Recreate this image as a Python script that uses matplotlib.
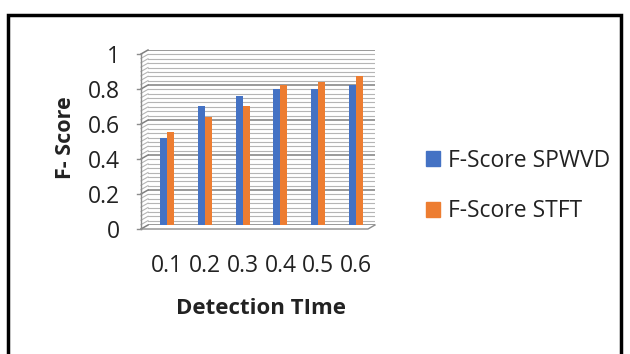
import matplotlib.pyplot as plt
import numpy as np
from matplotlib.lines import Line2D
from matplotlib.patches import Rectangle
import matplotlib.transforms as mtransforms

plt.rcParams['font.family'] = ['Open Sans', 'DejaVu Sans']

categories = ['0.1', '0.2', '0.3', '0.4', '0.5', '0.6']
spwvd = [0.50, 0.68, 0.74, 0.78, 0.78, 0.80]
stft = [0.53, 0.62, 0.68, 0.80, 0.82, 0.85]

W, H = 630, 354
fig = plt.figure(figsize=(W / 100, H / 100), dpi=100)

# back wall of the pseudo-3D plot, in pixels
L, R, B, T = 148, 375, 354 - 225, 354 - 50
ax = fig.add_axes([L / W, B / H, (R - L) / W, (T - B) / H])

x = np.arange(len(categories))
bw = 0.185
ax.bar(x - bw / 2, spwvd, bw, color='#4472c4', zorder=3)
ax.bar(x + bw / 2, stft, bw, color='#ed7d31', zorder=3)

ax.set_xlim(-0.5, len(categories) - 0.5)
ax.set_ylim(0, 1)

# grid: minor every 0.025, major every 0.2
for y in np.arange(0, 1.0001, 0.025):
    major = abs(y * 5 - round(y * 5)) < 1e-6
    c = '#7f7f7f' if major else '#b5b5b5'
    lw = 1.1 if major else 0.8
    ax.axhline(y, color=c, lw=lw, zorder=1)
    fy = (B + y * (T - B)) / H
    fig.add_artist(Line2D([L / W, (L - 7) / W], [fy, fy - 4 / H], color=c, lw=lw))

for s in ax.spines.values():
    s.set_visible(False)

# front left axis with small outward ticks
fx = (L - 7) / W
fig.add_artist(Line2D([fx, fx], [(B - 4) / H, (T - 4) / H], color='#8c8c8c', lw=1.0))
for y in [0, 0.2, 0.4, 0.6, 0.8, 1.0]:
    fy = (B + y * (T - B) - 4) / H
    fig.add_artist(Line2D([fx - 4 / W, fx], [fy, fy], color='#8c8c8c', lw=1.0))
# floor front edge
fig.add_artist(Line2D([fx, (R - 7) / W, R / W], [(B - 4) / H, (B - 4) / H, B / H],
                      color='#8c8c8c', lw=1.0))

ax.set_yticks([0, 0.2, 0.4, 0.6, 0.8, 1.0])
ax.set_yticklabels(['0', '0.2', '0.4', '0.6', '0.8', '1'])
ax.tick_params(axis='y', length=0, pad=20, labelsize=16.5, labelcolor='#222222')
off = mtransforms.ScaledTranslation(0, -4 / 100, fig.dpi_scale_trans)
for lab in ax.get_yticklabels():
    lab.set_transform(lab.get_transform() + off)

ax.set_xticks(x)
ax.set_xticklabels(categories)
ax.tick_params(axis='x', length=0, pad=21, labelsize=16.5, labelcolor='#222222')

ax.set_ylabel('F- Score', fontsize=15.5, fontweight='bold', labelpad=9, color='#222222')
ax.set_xlabel('Detection TIme', fontsize=16, fontweight='bold', labelpad=14, color='#222222')

handles = [Rectangle((0, 0), 1, 1, color='#4472c4'), Rectangle((0, 0), 1, 1, color='#ed7d31')]
fig.legend(handles, ['F-Score SPWVD', 'F-Score STFT'], loc='center left',
           bbox_to_anchor=(426 / W, 1 - 186 / H), frameon=False, fontsize=16.5,
           borderpad=0, borderaxespad=0, handlelength=0.62, handleheight=0.62,
           handletextpad=0.32, labelspacing=1.15, labelcolor='#222222')

# outer frame
fig.add_artist(Rectangle((8 / W, -0.05), (621 - 8) / W, 1.05 - 15 / H, fill=False,
                         edgecolor='black', lw=2.5))

fig.savefig('out.png', dpi=100)
